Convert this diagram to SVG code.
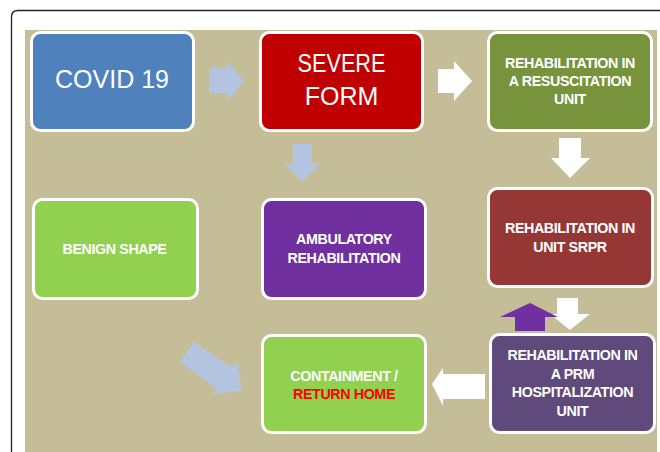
<svg xmlns="http://www.w3.org/2000/svg" width="660" height="452" viewBox="0 0 660 452">
<style>
.box{stroke:#ffffff;stroke-width:3}
.big{font-family:"Liberation Sans",Arial,sans-serif;font-size:25px;fill:#ffffff;text-anchor:middle}
.sm{font-family:"Liberation Sans",Arial,sans-serif;font-size:14.3px;font-weight:bold;letter-spacing:-0.4px;fill:#ffffff;text-anchor:middle}
.red{fill:#ff0000}
.blue{fill:#b2c4df}
.white{fill:#ffffff}
.purple{fill:#7030a0}
</style>
<rect width="660" height="452" fill="#ffffff"/>
<path d="M11.5,452 V17 Q11.5,10.5 18,10.5 H660" fill="none" stroke="#222" stroke-width="1.3"/>
<rect x="25" y="30" width="632" height="422" fill="#c4bd97"/>

<g id="connectors">
  <polygon class="blue" points="209,68 227,68 227,61 244,81 227,102 227,93 209,93"/>
  <polygon class="white" points="438,69 454,69 454,61 472,81 454,101 454,93 438,93"/>
  <polygon class="blue" points="293,144 312,144 312,163 321,163 302,182 284,163 293,163"/>
  <polygon class="white" points="559,138 581,138 581,158 590,158 570,178 551,158 559,158"/>
  <polygon class="white" points="557,298 578,298 578,314 590,314 570,330 550,314 557,314"/>
  <polygon class="purple" points="515,331 545,331 545,317 558,317 530,303 500,317 515,317"/>
  <polygon class="white" points="485,374 485,399 443,399 443,406 432,384 443,368 443,374"/>
  <polygon class="blue" points="194,342 231,367 237,362 242,391 212,394 217,389 180,362"/>
</g>

<g id="covid19">
  <rect class="box" x="31.5" y="32.5" width="162" height="98" rx="9" fill="#4f81bd"/>
  <text class="big" x="112" y="88">COVID 19</text>
</g>
<g id="severe-form">
  <rect class="box" x="260.5" y="32.5" width="162" height="98" rx="9" fill="#c00000"/>
  <text class="big" x="341.5" y="72" textLength="88" lengthAdjust="spacingAndGlyphs">SEVERE</text>
  <text class="big" x="341.5" y="105">FORM</text>
</g>
<g id="rehab-resuscitation">
  <rect class="box" x="488.5" y="32.5" width="163" height="98" rx="9" fill="#77933c"/>
  <text class="sm" x="570" y="68">REHABILITATION IN</text>
  <text class="sm" x="570" y="86">A RESUSCITATION</text>
  <text class="sm" x="570" y="104">UNIT</text>
</g>
<g id="benign-shape">
  <rect class="box" x="33.5" y="199.5" width="164" height="99" rx="9" fill="#92d050"/>
  <text class="sm" x="114.5" y="254">BENIGN SHAPE</text>
</g>
<g id="ambulatory">
  <rect class="box" x="262.5" y="199.5" width="163" height="99" rx="9" fill="#7030a0"/>
  <text class="sm" x="344" y="244">AMBULATORY</text>
  <text class="sm" x="344" y="262.5">REHABILITATION</text>
</g>
<g id="rehab-srpr">
  <rect class="box" x="488.5" y="188.5" width="164" height="98" rx="9" fill="#953735"/>
  <text class="sm" x="570" y="233">REHABILITATION IN</text>
  <text class="sm" x="570" y="251.5">UNIT SRPR</text>
</g>
<g id="containment">
  <rect class="box" x="262.5" y="335.5" width="163" height="97" rx="9" fill="#92d050"/>
  <text class="sm" x="344" y="380.5">CONTAINMENT /</text>
  <text class="sm red" x="344" y="398.5">RETURN HOME</text>
</g>
<g id="rehab-prm">
  <rect class="box" x="490.5" y="334.5" width="164" height="98" rx="9" fill="#604a7b"/>
  <text class="sm" x="572.5" y="360">REHABILITATION IN</text>
  <text class="sm" x="572.5" y="378.5">A PRM</text>
  <text class="sm" x="572.5" y="397">HOSPITALIZATION</text>
  <text class="sm" x="572.5" y="415.5">UNIT</text>
</g>
</svg>
